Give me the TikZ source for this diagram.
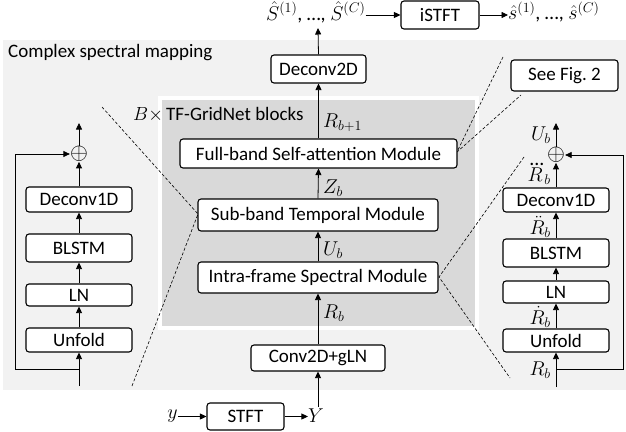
\RequirePackage{fix-cm}
\documentclass[tikz,border=0pt]{standalone}
\usepackage{amsmath}
\usepackage[no-math]{fontspec}
\setmainfont{Carlito}
\usetikzlibrary{arrows.meta}
\definecolor{lightbg}{HTML}{F2F2F2}
\definecolor{darkbg}{HTML}{D9D9D9}
\begin{document}
\begin{tikzpicture}[x=1pt,y=-1pt,
  every node/.style={font=\fontsize{19}{22}\selectfont},
  box/.style={draw=black, line width=1.1pt, fill=white, rounded corners=3pt, inner sep=0pt},
  arr/.style={-{Triangle[length=6.5pt,width=6pt]}, line width=0.8pt},
  dsh/.style={dashed, dash pattern=on 3pt off 2pt, line width=0.6pt},
  lbl/.style={inner sep=0pt},
  mlbl/.style={inner sep=0pt, font=\fontsize{20}{22}\selectfont},
  plus/.style={inner sep=0pt, font=\fontsize{23}{23}\selectfont}]
\useasboundingbox (0,0) rectangle (626,431);
% backgrounds
\fill[lightbg] (3,40) rectangle (626,390);
\fill[white] (158,96) rectangle (479,330);
\fill[darkbg] (162,100) rectangle (475,326);
\node[lbl, anchor=west] (title) at (8,53) {Complex spectral mapping};
\node[lbl, anchor=west] (blk) at (133,115) {$B{\times}$\,TF-GridNet blocks};
% dashed zoom lines
\coordinate (dl1) at (102,107);
\coordinate (dl2) at (198,214);
\coordinate (dl3) at (132,386);
\draw[dsh] (dl1) -- (dl2) -- (dl3);
\coordinate (dr1) at (503,57);
\coordinate (dr2) at (457,152);
\coordinate (dr3) at (521,95);
\draw[dsh] (dr1) -- (dr2) -- (dr3);
\coordinate (ds1) at (524,157);
\coordinate (ds2) at (439,277);
\coordinate (ds3) at (510,378);
\draw[dsh] (ds1) -- (ds2) -- (ds3);
% central column
\node[box, minimum width=95pt, minimum height=28pt] (dec2) at (318.5,69) {Deconv2D};
\node[box, minimum width=277pt, minimum height=29pt] (full) at (318.5,153.5) {Full-band Self-attention Module};
\node[box, minimum width=240pt, minimum height=32pt] (sub) at (318,215) {Sub-band Temporal Module};
\node[box, minimum width=240pt, minimum height=31pt] (intra) at (318,277.5) {Intra-frame Spectral Module};
\node[box, minimum width=134pt, minimum height=26pt] (conv) at (318,358) {Conv2D+gLN};
\node[box, minimum width=77pt, minimum height=27pt] (stft) at (245.5,416.5) {STFT};
\node[box, minimum width=78pt, minimum height=28pt] (istft) at (440,15) {iSTFT};
\node[box, minimum width=107pt, minimum height=31pt] (see) at (564.5,75.5) {See Fig.~2};
\node[mlbl, anchor=west] (Shat) at (266,12) {$\hat{S}^{(1)}$, …, $\hat{S}^{(C)}$};
\node[mlbl, anchor=west] (shat) at (508,12) {$\hat{s}^{(1)}$, …, $\hat{s}^{(C)}$};
\node[mlbl] (ysig) at (172.5,416) {$y$};
\node[mlbl] (Ysig) at (316,416) {$Y$};
\coordinate (Stop) at (318,28);
\coordinate (Ybot) at (318,407);
\draw[arr] (dec2.north) -- (Stop);
\draw[arr] (full.north) -- (dec2.south);
\draw[arr] (sub.north) -- (full.south);
\draw[arr] (intra.north) -- (sub.south);
\draw[arr] (conv.north) -- (intra.south);
\draw[arr] (Ybot) -- (conv.south);
\draw[arr] (Shat.east |- istft.west) -- (istft.west);
\draw[arr] (istft.east) -- (shat.west |- istft.east);
\draw[arr] (ysig.east |- stft.west) -- (stft.west);
\draw[arr] (stft.east) -- (Ysig.west |- stft.east);
\node[mlbl, anchor=west] (lR1) at (323,123) {$R_{b+1}$};
\node[mlbl, anchor=west] (lZ) at (323,188) {$Z_b$};
\node[mlbl, anchor=west] (lU) at (323,250) {$U_b$};
\node[mlbl, anchor=west] (lR) at (323,313) {$R_b$};
% left column
\node[box, minimum width=106pt, minimum height=25pt] (lde) at (79,199.5) {Deconv1D};
\node[box, minimum width=106pt, minimum height=28pt] (lbls) at (79,248) {BLSTM};
\node[box, minimum width=106pt, minimum height=22pt] (lln) at (79,295) {LN};
\node[box, minimum width=106pt, minimum height=24pt] (lun) at (79,340) {Unfold};
\node[plus] (lplus) at (79,154) {$\oplus$};
\coordinate (lout) at (79,123);
\coordinate (lin) at (79,386);
\coordinate (lbr) at (79,369);
\coordinate (lsk1) at (15,369);
\coordinate (lsk2) at (15,154);
\draw[arr] (lplus.north) -- (lout);
\draw[arr] (lde.north) -- (lplus.south);
\draw[arr] (lbls.north) -- (lde.south);
\draw[arr] (lln.north) -- (lbls.south);
\draw[arr] (lun.north) -- (lln.south);
\draw[arr] (lin) -- (lun.south);
\draw[arr] (lbr) -- (lsk1) -- (lsk2) -- (lplus.west);
% right column
\node[box, minimum width=106pt, minimum height=24pt] (rde) at (556,200) {Deconv1D};
\node[box, minimum width=106pt, minimum height=28pt] (rbl) at (556,253) {BLSTM};
\node[box, minimum width=106pt, minimum height=22pt] (rln) at (556,292) {LN};
\node[box, minimum width=106pt, minimum height=23pt] (run) at (556,340.5) {Unfold};
\node[plus] (rplus) at (556,155) {$\oplus$};
\coordinate (rout) at (556,123);
\coordinate (rin) at (556,387);
\coordinate (rbr) at (556,369);
\coordinate (rsk1) at (623,369);
\coordinate (rsk2) at (623,155);
\draw[arr] (rplus.north) -- (rout);
\draw[arr] (rde.north) -- (rplus.south);
\draw[arr] (rbl.north) -- (rde.south);
\draw[arr] (rln.north) -- (rbl.south);
\draw[arr] (run.north) -- (rln.south);
\draw[arr] (rin) -- (run.south);
\draw[arr] (rbr) -- (rsk1) -- (rsk2) -- (rplus.east);
\node[mlbl, anchor=east] (rU) at (551,135) {$U_b$};
\node[mlbl, anchor=east] (rR3) at (551,174) {$\dddot{R}_b$};
\node[mlbl, anchor=east] (rR2) at (551,227) {$\ddot{R}_b$};
\node[mlbl, anchor=east] (rR1) at (551,317) {$\dot{R}_b$};
\node[mlbl, anchor=east] (rR0) at (551,370) {$R_b$};
\end{tikzpicture}
\end{document}
